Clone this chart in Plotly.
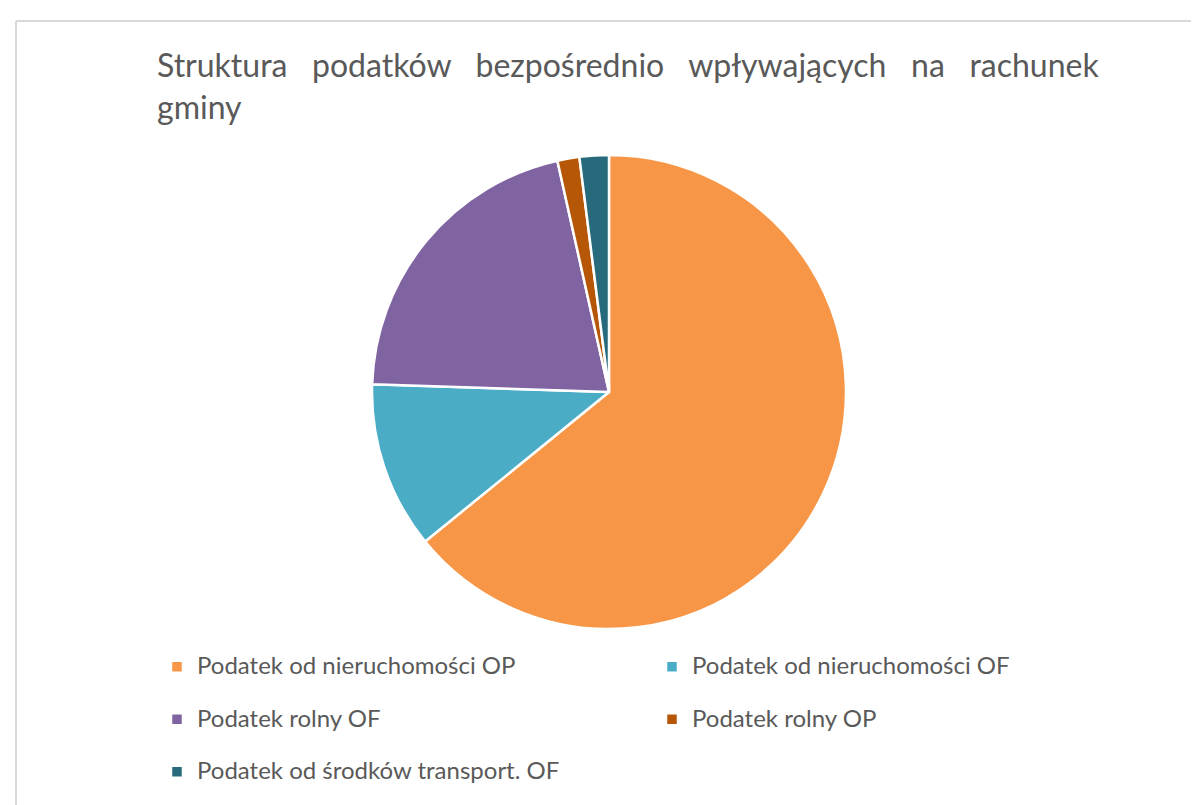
import plotly.graph_objects as go

labels = ["Podatek od nieruchomości OP", "Podatek od nieruchomości OF", "Podatek rolny OF",
          "Podatek rolny OP", "Podatek od środków transport. OF"]
values = [64.2, 11.4, 21.0, 1.5, 2.0]
colors = ["#F79646", "#4BACC6", "#8064A2", "#B65708", "#276A7C"]
title_line1 = ["Struktura", "podatków", "bezpośrednio", "wpływających", "na", "rachunek"]
title_line2 = "gminy"

W, H = 1199, 805
ml, mr, mt, mb = 92, 89, 147, 184

gap = " " + "&nbsp;" * 2
title_text = gap.join(title_line1) + "<br>" + title_line2

fig = go.Figure(go.Pie(
    labels=['<span style="font-size:24px">' + l + "</span><br> " for l in labels],
    values=values,
    marker=dict(colors=colors, line=dict(color="white", width=2.5)),
    sort=False, direction="clockwise", rotation=0,
    textinfo="none", hoverinfo="percent",
))

pw = W - ml - mr
ph = H - mt - mb
def px(x):
    return (x - ml) / pw
def py(y):
    return 1 - (y - mt) / ph

fig.add_shape(type="line", xref="paper", yref="paper", x0=px(8), x1=px(1198), y0=py(13), y1=py(13),
              line=dict(color="#D9D9D9", width=2))
fig.add_shape(type="line", xref="paper", yref="paper", x0=px(8), x1=px(8), y0=py(13), y1=py(806),
              line=dict(color="#D9D9D9", width=2))

fig.update_layout(
    width=W, height=H,
    margin=dict(l=ml, r=mr, t=mt, b=mb),
    paper_bgcolor="white", plot_bgcolor="white",
    font=dict(family="Lato, Open Sans, sans-serif", color="#595959"),
    title=dict(text=title_text, x=149 / W, xanchor="left", xref="container",
               y=1 - 69 / H, yanchor="top", yref="container",
               font=dict(size=32, color="#595959")),
    showlegend=True,
    legend=dict(orientation="h", xref="container", yref="container",
                x=149 / W, y=1 - 640 / H, xanchor="left", yanchor="top",
                entrywidth=450, entrywidthmode="pixels", valign="top",
                font=dict(size=19, color="#595959"), traceorder="normal"),
)

fig.write_html("out.html")
